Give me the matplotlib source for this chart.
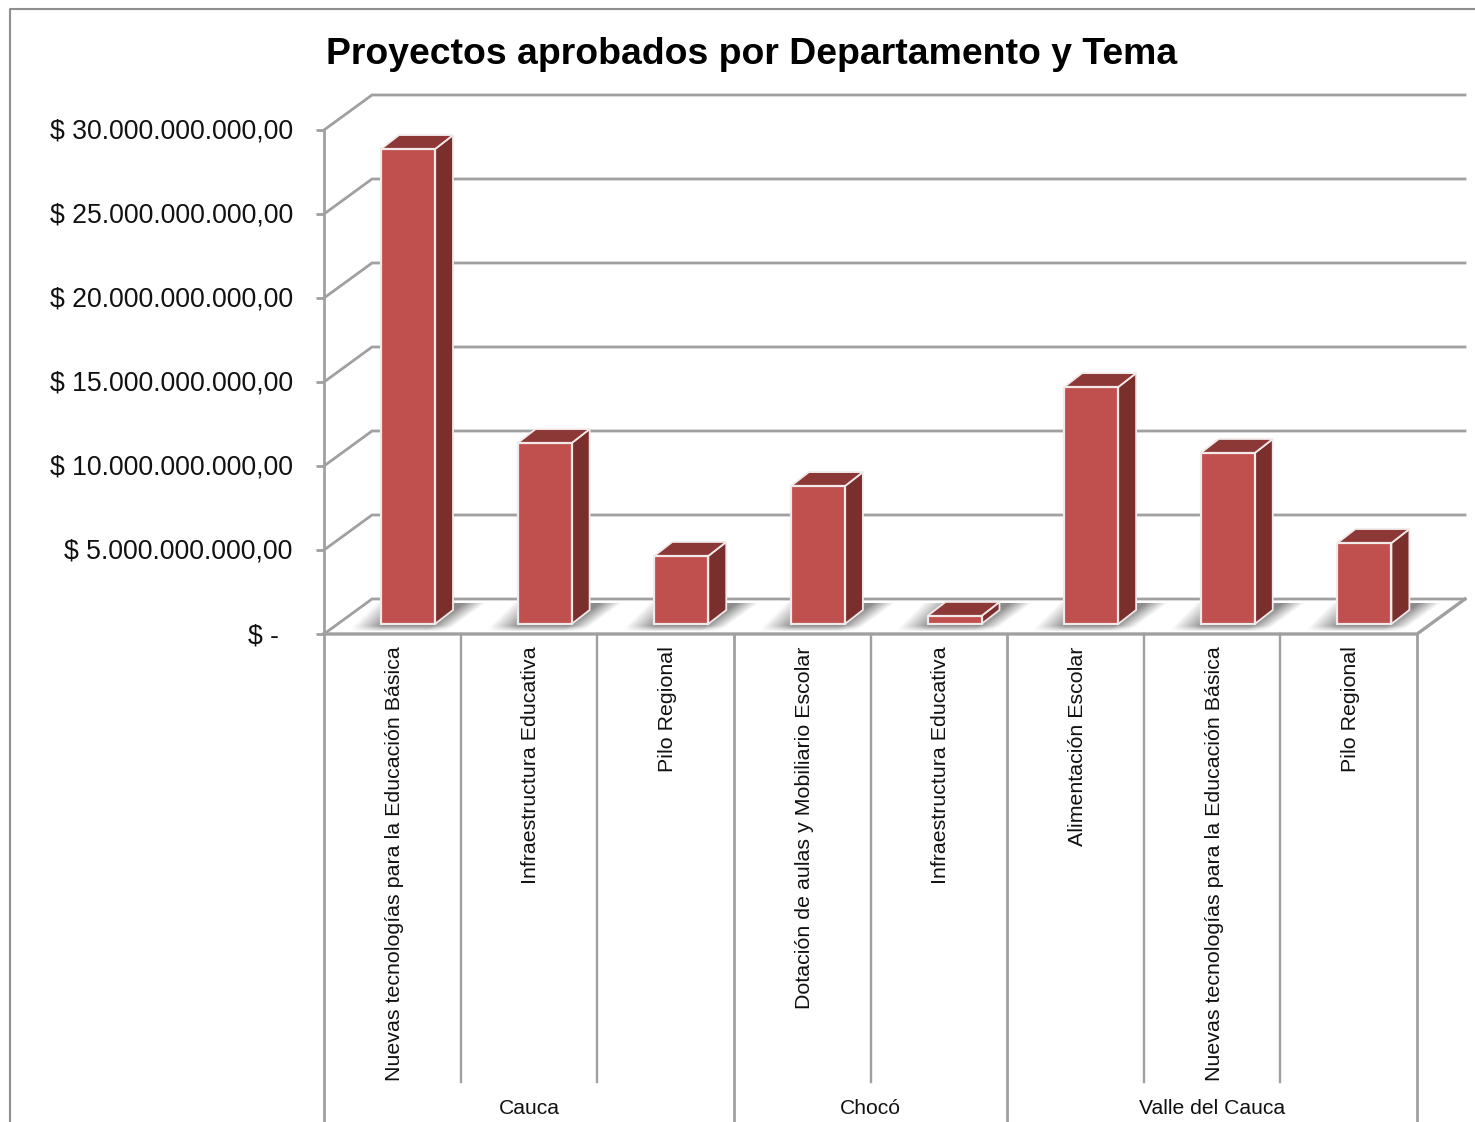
import matplotlib
matplotlib.use('Agg')
import matplotlib.pyplot as plt
from matplotlib.lines import Line2D
from matplotlib.patches import Polygon
from matplotlib.transforms import ScaledTranslation
import numpy as np

plt.rcParams['font.family'] = ['Liberation Sans', 'DejaVu Sans']

# values in pesos
temas = ['Nuevas tecnologías para la Educación Básica', 'Infraestructura Educativa', 'Pilo Regional',
         'Dotación de aulas y Mobiliario Escolar', 'Infraestructura Educativa',
         'Alimentación Escolar', 'Nuevas tecnologías para la Educación Básica', 'Pilo Regional']
valores = [28.27e9, 10.77e9, 4.05e9, 8.21e9, 0.48e9, 14.1e9, 10.18e9, 4.82e9]
departamentos = ['Cauca', 'Chocó', 'Valle del Cauca']
grupos_inicio = [0, 3, 5, 8]
y_ticks = [0, 5e9, 10e9, 15e9, 20e9, 25e9, 30e9]
y_labels = ['$ -', '$ 5.000.000.000,00', '$ 10.000.000.000,00', '$ 15.000.000.000,00',
            '$ 20.000.000.000,00', '$ 25.000.000.000,00', '$ 30.000.000.000,00']

W, H = 1475, 1122
GRIS = '#a0a0a0'
BORDE = '#f2eaea'
fig = plt.figure(figsize=(W / 100, H / 100), dpi=100)
ax = fig.add_axes([324 / W, 1 - 634 / H, (1417 - 324) / W, (634 - 130) / H])

# pixel sizes in data units, for the fake 3d depth
px = 8 / (1417 - 324)
py = 30e9 / (634 - 130)
fondo_x, fondo_y = 48 * px, 35 * py
base_x, base_y = 15.7 * px, 10 * py
bar_w = 54 * px
prof_x, prof_y = 18 * px, 14 * py

# gridlines: side wall + back wall
for t in y_ticks:
    ax.plot([0, fondo_x, 8 + fondo_x], [t, t + fondo_y, t + fondo_y], color=GRIS, lw=2, clip_on=False, zorder=1,
            solid_joinstyle='miter')

# floor edges
ax.plot([0, 8, 8 + fondo_x], [0, 0, fondo_y], color=GRIS, lw=2.4, clip_on=False, zorder=1)

# soft shadows on the floor
for i in range(len(valores)):
    x0 = i + 0.5 + base_x - bar_w / 2
    xs = np.arange(-45, 115)
    ys = np.arange(-21, 8)
    gx, gy = np.meshgrid(xs, ys)
    a_izq = np.clip((gx + gy + 27) / 30, 0, 1)
    a_der = np.clip((74 - (gx + gy * 1.37)) / 22, 0, 1)
    a_v = np.clip((7 - gy) / 6, 0, 1)
    img = np.zeros(gx.shape + (4,))
    img[..., :3] = 0.55
    img[..., 3] = a_izq * a_der * a_v
    ext = [x0 - 45 * px, x0 + 115 * px, base_y - 8 * py, base_y + 21 * py]
    ax.imshow(img, extent=ext, aspect='auto', origin='upper', zorder=1.5, clip_on=False, interpolation='bilinear')

# bars
pos = np.arange(len(valores)) + 0.5 + base_x
ax.bar(pos, valores, bar_w, bottom=base_y, color='#c0504d', edgecolor=BORDE, linewidth=1.6, zorder=3, clip_on=False)
for x, v in zip(pos, valores):
    xl, xr = x - bar_w / 2, x + bar_w / 2
    top = base_y + v
    ax.add_patch(Polygon([(xr, base_y), (xr + prof_x, base_y + prof_y), (xr + prof_x, top + prof_y), (xr, top)],
                         facecolor='#7b2f2d', edgecolor=BORDE, lw=1.3, zorder=2.8, clip_on=False))
    ax.add_patch(Polygon([(xl, top), (xl + prof_x, top + prof_y), (xr + prof_x, top + prof_y), (xr, top)],
                         facecolor='#8c3836', edgecolor=BORDE, lw=1.3, zorder=2.8, clip_on=False))

ax.set_xlim(0, 8)
ax.set_ylim(0, 30e9)
ax.set_xticks([])
ax.set_yticks(y_ticks)
ax.set_yticklabels(y_labels, fontsize=19.2, color='#111111')
ax.tick_params(axis='y', length=6, width=2, color=GRIS, pad=16.5)
ax.yaxis.get_major_ticks()[0].set_pad(26.5)
for lab in ax.get_yticklabels():
    lab.set_transform(lab.get_transform() + ScaledTranslation(0, 1 / 100, fig.dpi_scale_trans))
for s in ['top', 'right', 'bottom']:
    ax.spines[s].set_visible(False)
ax.spines['left'].set_color(GRIS)
ax.spines['left'].set_linewidth(2)
ax.patch.set_alpha(0)

# category axis below the floor
y_cat = -(1082 - 634) * py
y_fin = -(1122 - 634) * py
for k in range(9):
    fin = y_fin if k in grupos_inicio else y_cat
    ax.plot([k, k], [0, fin], color=GRIS, lw=2 if k in grupos_inicio else 1.7, clip_on=False, zorder=1)
for i, t in enumerate(temas):
    ax.text(i + 0.5 + 2 * px, -(646.5 - 634) * py, t, rotation=90, ha='center', va='top', fontsize=15.4, color='#111111')
for d, a, b in zip(departamentos, grupos_inicio[:-1], grupos_inicio[1:]):
    ax.text((a + b) / 2, -(1109 - 634) * py, d, ha='center', va='center', fontsize=15.2, color='#111111')

fig.text(751.5 / W, 1 - 55 / H, 'Proyectos aprobados por Departamento y Tema', ha='center', va='center',
         fontsize=26.9, fontweight='bold', color='black')

# chart frame (cut by the screenshot on the right and bottom)
fig.add_artist(Line2D([10 / W, 10 / W, 1], [0, 1 - 9 / H, 1 - 9 / H], color='#8f8f8f', lw=1.5))

fig.savefig('out.png', dpi=100)
